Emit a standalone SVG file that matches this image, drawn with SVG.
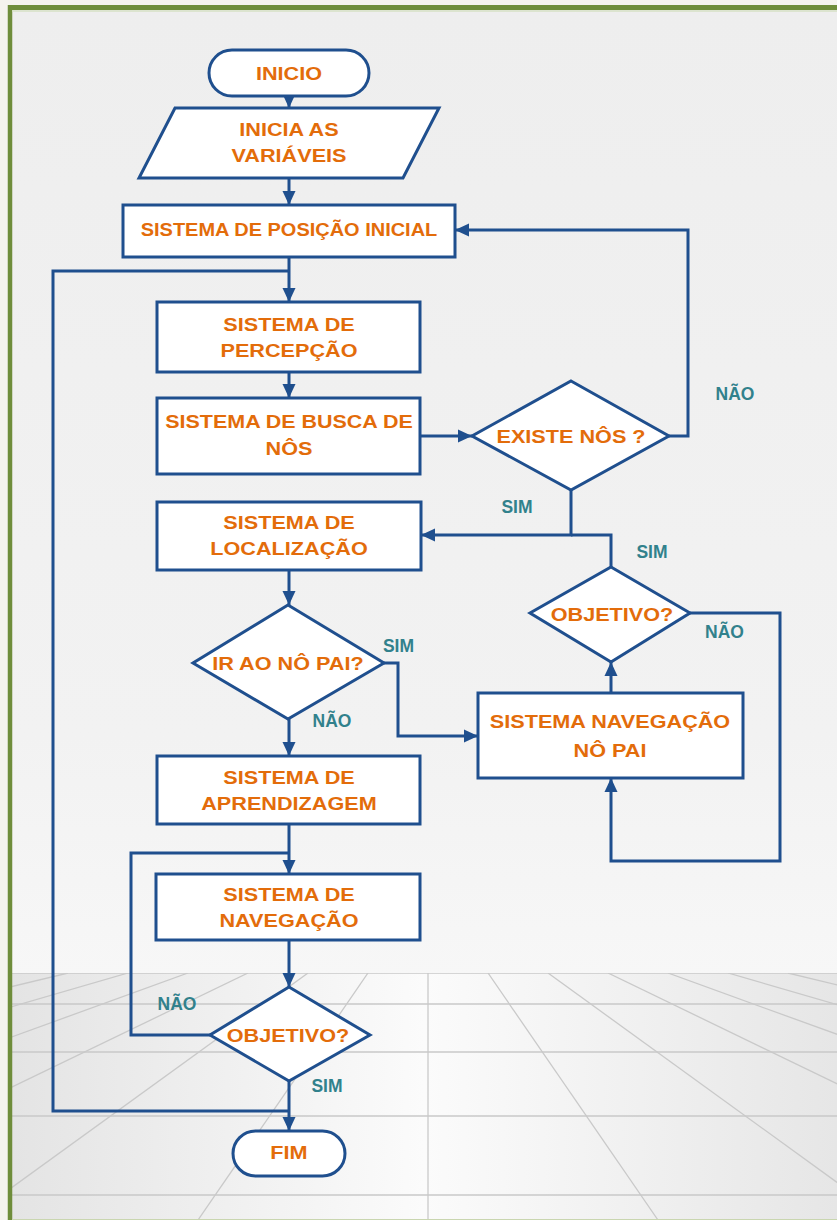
<svg xmlns="http://www.w3.org/2000/svg" width="837" height="1220" viewBox="0 0 837 1220">
  <defs>
    <linearGradient id="wall" x1="0" y1="0" x2="0" y2="1">
      <stop offset="0" stop-color="#eeeeee"/>
      <stop offset="0.6" stop-color="#f2f2f2"/>
      <stop offset="1" stop-color="#fcfcfc"/>
    </linearGradient>
    <linearGradient id="floor" x1="0" y1="0" x2="1" y2="0">
      <stop offset="0" stop-color="#e4e4e4"/>
      <stop offset="0.5" stop-color="#fbfbfb"/>
      <stop offset="1" stop-color="#e6e6e6"/>
    </linearGradient>
    <clipPath id="floorClip">
      <rect x="12" y="973" width="825" height="247"/>
    </clipPath>
    <marker id="arrow" markerUnits="userSpaceOnUse" markerWidth="16" markerHeight="16" refX="14.5" refY="7" orient="auto">
      <path d="M0.5,0.5 L14.5,7 L0.5,13.5 z" fill="#1f4f8e"/>
    </marker>
    <style>
      .node { fill: #ffffff; stroke: #1f4f8e; stroke-width: 3; }
      .edge { fill: none; stroke: #1f4f8e; stroke-width: 3; }
      .arrow { marker-end: url(#arrow); }
      .t { font-family: "Liberation Sans", Arial, sans-serif; font-weight: bold; font-size: 18.5px; fill: #e36c0a; text-anchor: middle; }
      .lbl { font-family: "Liberation Sans", Arial, sans-serif; font-weight: bold; font-size: 17.5px; fill: #31818c; text-anchor: middle; }
      .grid { stroke: #c9c9c9; stroke-width: 1.3; fill: none; }
    </style>
  </defs>

  <!-- page background and frame -->
  <rect x="0" y="0" width="837" height="1220" fill="#f5f3ee"/>
  <rect x="10" y="7" width="827" height="1213" fill="url(#wall)"/>
  <rect x="12" y="973" width="825" height="247" fill="url(#floor)"/>

  <!-- perspective floor grid -->
  <g class="grid" clip-path="url(#floorClip)">
    <line x1="12" y1="973" x2="837" y2="973"/>
    <line x1="12" y1="1004" x2="837" y2="1004"/>
    <line x1="12" y1="1052" x2="837" y2="1052"/>
    <line x1="12" y1="1116" x2="837" y2="1116"/>
    <line x1="12" y1="1195" x2="837" y2="1195"/>
    <line x1="428" y1="973" x2="428" y2="1220"/>
    <line x1="488" y1="973" x2="658" y2="1220"/>
    <line x1="548" y1="973" x2="889" y2="1220"/>
    <line x1="608" y1="973" x2="1119" y2="1220"/>
    <line x1="668" y1="973" x2="1349" y2="1220"/>
    <line x1="728" y1="973" x2="1580" y2="1220"/>
    <line x1="788" y1="973" x2="1810" y2="1220"/>
    <line x1="368" y1="973" x2="198" y2="1220"/>
    <line x1="308" y1="973" x2="-33" y2="1220"/>
    <line x1="248" y1="973" x2="-263" y2="1220"/>
    <line x1="188" y1="973" x2="-493" y2="1220"/>
    <line x1="128" y1="973" x2="-724" y2="1220"/>
    <line x1="68" y1="973" x2="-954" y2="1220"/>
  </g>

  <!-- green frame -->
  <line x1="10" y1="5" x2="10" y2="1220" stroke="#6f8d3b" stroke-width="4.5"/>
  <line x1="8" y1="7.5" x2="837" y2="7.5" stroke="#6f8d3b" stroke-width="5"/>
  <line x1="12" y1="11" x2="837" y2="11" stroke="#d6e0c4" stroke-width="1.5"/>
  <line x1="12" y1="1219.5" x2="837" y2="1219.5" stroke="#c9d6b0" stroke-width="1"/>

  <!-- connectors -->
  <g id="connectors">
    <path class="edge arrow" d="M289,96 L289,108"/>
    <path class="edge arrow" d="M289,178 L289,205"/>
    <path class="edge arrow" d="M289,257 L289,302"/>
    <path class="edge" d="M289,271 L53,271 L53,1111 L289,1111"/>
    <path class="edge arrow" d="M289,372 L289,398"/>
    <path class="edge arrow" d="M420,436 L472,436"/>
    <path class="edge arrow" d="M669,436 L688,436 L688,230 L455,230"/>
    <path class="edge arrow" d="M571,490 L571,535 L421,535"/>
    <path class="edge" d="M611,567 L611,535 L571,535"/>
    <path class="edge arrow" d="M289,570 L289,605"/>
    <path class="edge arrow" d="M384,663 L398,663 L398,736 L478,736"/>
    <path class="edge arrow" d="M289,719 L289,756"/>
    <path class="edge arrow" d="M289,824 L289,874"/>
    <path class="edge" d="M210,1035 L131,1035 L131,853 L289,853"/>
    <path class="edge arrow" d="M289,940 L289,987"/>
    <path class="edge arrow" d="M289,1081 L289,1131"/>
    <path class="edge arrow" d="M611,693 L611,662"/>
    <path class="edge arrow" d="M690,613 L780,613 L780,861 L611,861 L611,778"/>

    <text class="lbl" x="735" y="399.5">NÃO</text>
    <text class="lbl" x="517" y="513">SIM</text>
    <text class="lbl" x="652" y="558">SIM</text>
    <text class="lbl" x="398.5" y="651.5">SIM</text>
    <text class="lbl" x="332" y="727">NÃO</text>
    <text class="lbl" x="724.5" y="638">NÃO</text>
    <text class="lbl" x="177" y="1010">NÃO</text>
    <text class="lbl" x="327" y="1091.5">SIM</text>
  </g>

  <!-- nodes -->
  <g id="inicio">
    <rect class="node" x="209" y="50" width="160" height="46" rx="23"/>
    <text class="t" transform="translate(289 79.6) scale(1.17 1)">INICIO</text>
  </g>
  <g id="inicia-variaveis">
    <polygon class="node" points="175,108 439,108 403,178 139,178"/>
    <text class="t" transform="translate(289 136.1) scale(1.17 1)">INICIA AS</text>
    <text class="t" transform="translate(289 161.6) scale(1.17 1)">VARIÁVEIS</text>
  </g>
  <g id="posicao-inicial">
    <rect class="node" x="123" y="205" width="332" height="52"/>
    <text class="t" style="font-size:18px" transform="translate(289 236.4) scale(1.11 1)">SISTEMA DE POSIÇÃO INICIAL</text>
  </g>
  <g id="percepcao">
    <rect class="node" x="157" y="302" width="263" height="70"/>
    <text class="t" transform="translate(289 330.6) scale(1.17 1)">SISTEMA DE</text>
    <text class="t" transform="translate(289 356.6) scale(1.17 1)">PERCEPÇÃO</text>
  </g>
  <g id="busca-nos">
    <rect class="node" x="157" y="398" width="263" height="76"/>
    <text class="t" transform="translate(289 428.1) scale(1.16 1)">SISTEMA DE BUSCA DE</text>
    <text class="t" transform="translate(289 455.1) scale(1.17 1)">NÔS</text>
  </g>
  <g id="existe-nos">
    <polygon class="node" points="571,381 669,436 571,490 472,436"/>
    <text class="t" transform="translate(571 443.1) scale(1.17 1)">EXISTE NÔS ?</text>
  </g>
  <g id="localizacao">
    <rect class="node" x="157" y="502" width="264" height="68"/>
    <text class="t" transform="translate(289 529.1) scale(1.17 1)">SISTEMA DE</text>
    <text class="t" transform="translate(289 555.1) scale(1.17 1)">LOCALIZAÇÃO</text>
  </g>
  <g id="ir-no-pai">
    <polygon class="node" points="288,605 384,663 288,719 193,663"/>
    <text class="t" transform="translate(288 669.6) scale(1.17 1)">IR AO NÔ PAI?</text>
  </g>
  <g id="objetivo-pai">
    <polygon class="node" points="611,567 690,613 611,662 530,613"/>
    <text class="t" transform="translate(612 620.6) scale(1.17 1)">OBJETIVO?</text>
  </g>
  <g id="navegacao-no-pai">
    <rect class="node" x="478" y="693" width="265" height="85"/>
    <text class="t" transform="translate(610 727.6) scale(1.17 1)">SISTEMA NAVEGAÇÃO</text>
    <text class="t" transform="translate(610 756.6) scale(1.17 1)">NÔ PAI</text>
  </g>
  <g id="aprendizagem">
    <rect class="node" x="157" y="756" width="263" height="68"/>
    <text class="t" transform="translate(289 783.6) scale(1.17 1)">SISTEMA DE</text>
    <text class="t" transform="translate(289 809.6) scale(1.17 1)">APRENDIZAGEM</text>
  </g>
  <g id="navegacao">
    <rect class="node" x="156" y="874" width="264" height="66"/>
    <text class="t" transform="translate(289 900.6) scale(1.17 1)">SISTEMA DE</text>
    <text class="t" transform="translate(289 926.6) scale(1.17 1)">NAVEGAÇÃO</text>
  </g>
  <g id="objetivo">
    <polygon class="node" points="289,987 370,1035 289,1081 210,1035"/>
    <text class="t" transform="translate(288 1042.1) scale(1.17 1)">OBJETIVO?</text>
  </g>
  <g id="fim">
    <rect class="node" x="233" y="1131" width="112" height="45" rx="22.5"/>
    <text class="t" transform="translate(289 1159.1) scale(1.17 1)">FIM</text>
  </g>
</svg>
